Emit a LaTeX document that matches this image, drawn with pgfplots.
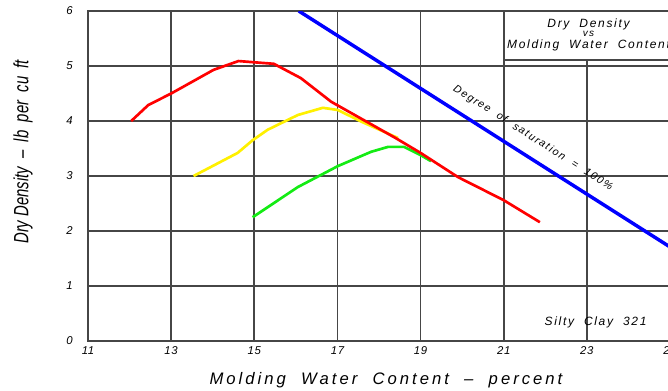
\documentclass[border=0pt]{standalone}
\usepackage{pgfplots}
\pgfplotsset{compat=1.18}
\usepackage{fontspec}
\setmainfont{Liberation Sans}
\newfontfamily\cad[LetterSpace=6]{Liberation Sans}
\newfontfamily\cadA[LetterSpace=18]{Liberation Sans}
\newfontfamily\cadB[LetterSpace=14]{Liberation Sans}
\newfontfamily\cadn[FakeStretch=0.72]{Liberation Sans}
\definecolor{gridc}{RGB}{70,70,70}
\definecolor{cred}{RGB}{255,0,0}
\definecolor{cyel}{RGB}{255,240,0}
\definecolor{cgreen}{RGB}{20,235,20}
\definecolor{cblue}{RGB}{0,0,255}
\tikzset{gline/.style={gridc, line width=1.3pt}}
\begin{document}
\begin{tikzpicture}
\begin{axis}[
  at={(0,0)}, anchor=south west,
  scale only axis, width=436.5pt, height=247.5pt,
  xmin=11, xmax=25, ymin=0, ymax=6,
  xtick={11,13,...,25}, ytick={0,1,...,6},
  major tick length=0pt,
  axis line style={gridc, line width=1.3pt},
  clip mode=individual,
  tick label style={font=\cad\itshape\fontsize{8.5}{10}\selectfont, /pgf/number format/assume math mode=true},
  xticklabel style={yshift=-1pt},
  yticklabel style={xshift=-8pt},
  xlabel={Molding\ \ Water\ \ Content\ \ –\ \ percent},
  xlabel style={font=\cadA\itshape\fontsize{12.5}{14}\selectfont, at={(axis description cs:0.512,-0.118)}, anchor=center},
  ylabel={Dry\ Density\ \ –\ \ lb\ \ per\ \ cu\ \ ft},
  ylabel style={font=\cadn\itshape\fontsize{15.5}{17}\selectfont, at={(axis description cs:-0.1117,0.573)}, anchor=center},
]
% grid
\pgfplotsinvokeforeach{1,2,3,4,5}{\draw[gline] (axis cs:11,#1) -- (axis cs:25,#1);}
\pgfplotsinvokeforeach{13,15,17,19,21}{\draw[gline] (axis cs:#1,0) -- (axis cs:#1,6);}
\draw[gline] (axis cs:23,0) -- (axis cs:23,5.11);
\draw[gline] (axis cs:21,5.11) -- (axis cs:25,5.11);
% curves
\addplot[cgreen, line width=2pt, line join=round] coordinates {
 (14.96,2.25) (16.05,2.80) (17.01,3.18) (17.81,3.44) (18.22,3.53) (18.60,3.53) (19.00,3.38) (19.25,3.27)};
\addplot[cyel, line width=2pt, line join=round] coordinates {
 (13.54,3.00) (14.60,3.42) (14.96,3.65) (15.32,3.84) (16.05,4.11) (16.65,4.24) (17.01,4.20) (17.60,3.98) (18.46,3.69)};
\addplot[cred, line width=2pt, line join=round] coordinates {
 (12.04,4.00) (12.45,4.29) (13.00,4.50) (14.02,4.93) (14.62,5.09) (15.47,5.04) (16.12,4.78) (16.85,4.35) (18.40,3.69) (19.00,3.42) (19.90,2.98) (21.00,2.56) (21.87,2.16)};
\addplot[cblue, line width=2.6pt] coordinates {(16.07,6.00) (25.00,1.71)};
% texts
\node[rotate=-32.5, font=\cadB\itshape\fontsize{8}{9}\selectfont] at (axis cs:21.70,3.69) {Degree\ \ of\ \ saturation\ \ =\ \ 100\%};
\node[font=\cadB\itshape\fontsize{9}{10}\selectfont] at (axis cs:23.04,5.76) {Dry\ \ Density};
\node[font=\cadB\itshape\fontsize{7.5}{8}\selectfont] at (axis cs:23.04,5.58) {vs};
\node[font=\cadB\itshape\fontsize{9}{10}\selectfont] at (axis cs:23.04,5.38) {Molding\ \ Water\ \ Content};
\node[font=\cadB\itshape\fontsize{9}{10}\selectfont] at (axis cs:23.21,0.33) {Silty\ \ Clay\ \ 321};
\end{axis}
\pgfresetboundingbox
\path[use as bounding box] (-66pt,-36.75pt) rectangle (435pt,255.75pt);
\end{tikzpicture}
\end{document}
